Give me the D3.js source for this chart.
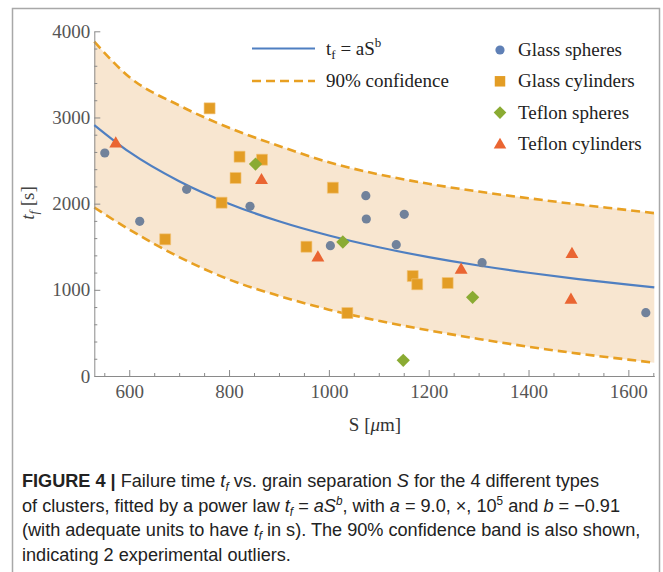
<!DOCTYPE html>
<html lang="en">
<head>
    <meta charset="UTF-8">
    <title>Failure time vs grain separation</title>
    <script src="https://d3js.org/d3.v7.min.js"></script>
    <style>
        body { margin: 0; background: #fff; }
        .axis path, .axis line { stroke: #8a8a8a; stroke-width: 1; fill: none; }
        .axis text { font-family: "Liberation Serif", "Times New Roman", serif; font-size: 19px; fill: #555; }
        .plabel { font-family: "Liberation Serif", "Times New Roman", serif; fill: #333; }
        .legend text { font-family: "Liberation Serif", "Times New Roman", serif; font-size: 19px; fill: #222; }
        .caption { font-family: "Liberation Sans", Arial, sans-serif; font-size: 18.5px; fill: #222; }
    </style>
</head>
<body>
    <svg width="663" height="572"></svg>

    <script>
        const curveS = [530, 600, 700, 800, 900, 1000, 1100, 1200, 1300, 1400, 1500, 1600, 1652];
        const fitT   = [2912, 2600, 2260, 2000, 1795, 1630, 1494, 1380, 1282, 1198, 1125, 1060, 1029];
        const upperT = [3880, 3470, 3140, 2880, 2670, 2480, 2340, 2230, 2140, 2063, 1990, 1925, 1890];
        const lowerT = [1955, 1700, 1380, 1120, 930, 770, 640, 530, 430, 340, 260, 190, 154];

        // measurements
        const glassSpheresS = [551, 621, 715, 842, 1003, 1074, 1075, 1135, 1151, 1307, 1635];
        const glassSpheresT = [2588, 1795, 2166, 1969, 1512, 2092, 1822, 1524, 1876, 1315, 735];
        const glassCylS = [672, 761, 785, 813, 821, 866, 955, 1008, 1037, 1168, 1177, 1238];
        const glassCylT = [1586, 3106, 2011, 2298, 2545, 2510, 1500, 2185, 731, 1160, 1064, 1079];
        const teflonSphS = [853, 1028, 1149, 1288];
        const teflonSphT = [2460, 1555, 182, 913];
        const teflonCylS = [573, 865, 978, 1265, 1485, 1487];
        const teflonCylT = [2707, 2282, 1384, 1242, 893, 1424];

        const xTicks = [600, 800, 1000, 1200, 1400, 1600];
        const yTicks = [0, 1000, 2000, 3000, 4000];
        const seriesNames = ['Glass spheres', 'Glass cylinders', 'Teflon spheres', 'Teflon cylinders'];

        const svg = d3.select('svg');

        // outer frame of the figure
        svg.append('rect')
            .attr('x', 12.5).attr('y', 8.5)
            .attr('width', 647).attr('height', 620)
            .attr('fill', 'none')
            .attr('stroke', '#a8a8a8')
            .attr('stroke-width', 1.5);

        const x = d3.scaleLinear().domain([530, 1652]).range([94.3, 654.3]);
        const y = d3.scaleLinear().domain([0, 4000]).range([376, 31.3]);

        const curve = curveS.map((s, i) => ({ s: s, fit: fitT[i], up: upperT[i], lo: lowerT[i] }));

        // confidence band
        svg.append('path')
            .datum(curve)
            .attr('fill', '#f8e6d0')
            .attr('d', d3.area()
                .x(d => x(d.s))
                .y0(d => y(d.lo))
                .y1(d => y(d.up))
                .curve(d3.curveMonotoneX));

        ['up', 'lo'].forEach(k => {
            svg.append('path')
                .datum(curve)
                .attr('fill', 'none')
                .attr('stroke', '#e8a022')
                .attr('stroke-width', 2.6)
                .attr('stroke-dasharray', '9,5')
                .attr('d', d3.line().x(d => x(d.s)).y(d => y(d[k])).curve(d3.curveMonotoneX));
        });

        // axes
        svg.append('g').attr('class', 'axis')
            .attr('transform', 'translate(0,376)')
            .call(d3.axisBottom(x).tickValues(xTicks).tickFormat(d3.format('d'))
                .tickSize(-6).tickSizeOuter(0).tickPadding(9));
        svg.append('g').attr('class', 'axis')
            .attr('transform', 'translate(0,376)')
            .call(d3.axisBottom(x).tickValues(d3.range(550, 1651, 50).filter(v => v % 200 !== 0))
                .tickSize(-3).tickSizeOuter(0).tickFormat(''))
            .select('.domain').remove();

        svg.append('g').attr('class', 'axis')
            .attr('transform', 'translate(94.3,0)')
            .call(d3.axisLeft(y).tickValues(yTicks).tickFormat(d3.format('d'))
                .tickSize(-6).tickSizeOuter(0).tickPadding(4));
        svg.append('g').attr('class', 'axis')
            .attr('transform', 'translate(94.3,0)')
            .call(d3.axisLeft(y).tickValues(d3.range(200, 4000, 200).filter(v => v % 1000 !== 0))
                .tickSize(-3).tickSizeOuter(0).tickFormat(''))
            .select('.domain').remove();

        // fit line
        svg.append('path')
            .datum(curve)
            .attr('fill', 'none')
            .attr('stroke', '#4f7fc1')
            .attr('stroke-width', 2.2)
            .attr('d', d3.line().x(d => x(d.s)).y(d => y(d.fit)).curve(d3.curveMonotoneX));

        // points
        const zip = (a, b) => a.map((v, i) => ({ s: v, t: b[i] }));

        svg.append('g').selectAll('circle')
            .data(zip(glassSpheresS, glassSpheresT))
            .join('circle')
            .attr('cx', d => x(d.s)).attr('cy', d => y(d.t))
            .attr('r', 4.6)
            .attr('fill', '#71829b');

        svg.append('g').selectAll('path')
            .data(zip(glassCylS, glassCylT))
            .join('path')
            .attr('transform', d => `translate(${x(d.s)},${y(d.t)})`)
            .attr('d', d3.symbol(d3.symbolSquare, 121))
            .attr('fill', '#e39d25')
            .attr('stroke', '#f3c47a').attr('stroke-width', 0.6);

        svg.append('g').selectAll('path')
            .data(zip(teflonSphS, teflonSphT))
            .join('path')
            .attr('transform', d => `translate(${x(d.s)},${y(d.t)}) rotate(45)`)
            .attr('d', d3.symbol(d3.symbolSquare, 88))
            .attr('fill', '#8aab33');

        svg.append('g').selectAll('path')
            .data(zip(teflonCylS, teflonCylT))
            .join('path')
            .attr('transform', d => `translate(${x(d.s)},${y(d.t) + 1})`)
            .attr('d', d3.symbol(d3.symbolTriangle, 72))
            .attr('fill', '#ea6532');

        // axis labels
        const xl = svg.append('text').attr('class', 'plabel')
            .attr('x', 375).attr('y', 431)
            .attr('text-anchor', 'middle')
            .style('font-size', '19px');
        xl.append('tspan').text('S [');
        xl.append('tspan').style('font-style', 'italic').text('\u03bc');
        xl.append('tspan').text('m]');

        const yl = svg.append('text').attr('class', 'plabel')
            .attr('transform', 'translate(34,203) rotate(-90)')
            .attr('text-anchor', 'middle')
            .style('font-size', '19px')
            .style('fill', '#444');
        yl.append('tspan').style('font-style', 'italic').text('t');
        yl.append('tspan').style('font-style', 'italic').style('font-size', '13px').attr('dy', 4).text('f');
        yl.append('tspan').attr('dy', -4).text(' [s]');

        // legend: fit and band
        const leg = svg.append('g').attr('class', 'legend');
        leg.append('line')
            .attr('x1', 252).attr('x2', 315).attr('y1', 48.5).attr('y2', 48.5)
            .attr('stroke', '#4f7fc1').attr('stroke-width', 2.2);
        leg.append('line')
            .attr('x1', 252).attr('x2', 315).attr('y1', 81).attr('y2', 81)
            .attr('stroke', '#e8a022').attr('stroke-width', 2.6).attr('stroke-dasharray', '9,5');
        const lt = leg.append('text').attr('x', 326).attr('y', 55);
        lt.append('tspan').text('t');
        lt.append('tspan').style('font-size', '13px').attr('dy', 4).text('f');
        lt.append('tspan').attr('dy', -4).text(' = aS');
        lt.append('tspan').style('font-size', '13px').attr('dy', -8).text('b');
        leg.append('text').attr('x', 326).attr('y', 87).text('90% confidence');

        // legend: series
        const symbols = [
            g => g.append('circle').attr('r', 4.6).attr('fill', '#5f80b6'),
            g => g.append('path').attr('d', d3.symbol(d3.symbolSquare, 110)).attr('fill', '#e39d25'),
            g => g.append('path').attr('d', d3.symbol(d3.symbolSquare, 80)).attr('transform', 'rotate(45)').attr('fill', '#8aab33'),
            g => g.append('path').attr('d', d3.symbol(d3.symbolTriangle, 68)).attr('transform', 'translate(0,1)').attr('fill', '#ea6532')
        ];
        seriesNames.forEach((name, i) => {
            const g = leg.append('g').attr('transform', `translate(500,${50 + i * 31.3})`);
            symbols[i](g);
            g.append('text').attr('x', 18).attr('y', 6).text(name);
        });

        // caption (narrow face in the original: squeeze every line by the same factor,
        // taken from the widest line)
        const captionLines = [
            [['FIGURE 4', 'b'], [' | ', 'b'], ['Failure time '], ['t', 'i'], ['f', 'isub'], [' vs. grain separation '], ['S', 'i'], [' for the 4 different types']],
            [['of clusters, fitted by a power law '], ['t', 'i'], ['f', 'isub'], [' = '], ['aS', 'i'], ['b', 'isup'], [', with '], ['a', 'i'], [' = 9.0, \u00d7, 10'], ['5', 'sup'], [' and '], ['b', 'i'], [' = \u22120.91']],
            [['(with adequate units to have '], ['t', 'i'], ['f', 'isub'], [' in s). The 90% confidence band is also shown,']],
            [['indicating 2 experimental outliers.']]
        ];
        const captionNodes = captionLines.map((segs, li) => {
            const t = svg.append('text').attr('class', 'caption').attr('x', 0).attr('y', 0);
            let shift = 0;
            segs.forEach(([str, kind]) => {
                const ts = t.append('tspan').text(str);
                let want = 0;
                if (kind === 'b') ts.style('font-weight', 'bold');
                if (kind && kind.startsWith('i')) ts.style('font-style', 'italic');
                if (kind && kind.endsWith('sub')) { want = 4; ts.style('font-size', '12px'); }
                if (kind && kind.endsWith('sup')) { want = -7; ts.style('font-size', '12px'); }
                if (want !== shift) { ts.attr('dy', want - shift); shift = want; }
            });
            return t;
        });
        const wMax = d3.max(captionNodes, t => t.node().getComputedTextLength());
        const sx = wMax > 0 ? 619 / wMax : 1;
        captionNodes.forEach((t, li) => {
            t.attr('transform', `translate(22,${487 + li * 24.5}) scale(${sx},1)`);
        });
    </script>
</body>
</html>
